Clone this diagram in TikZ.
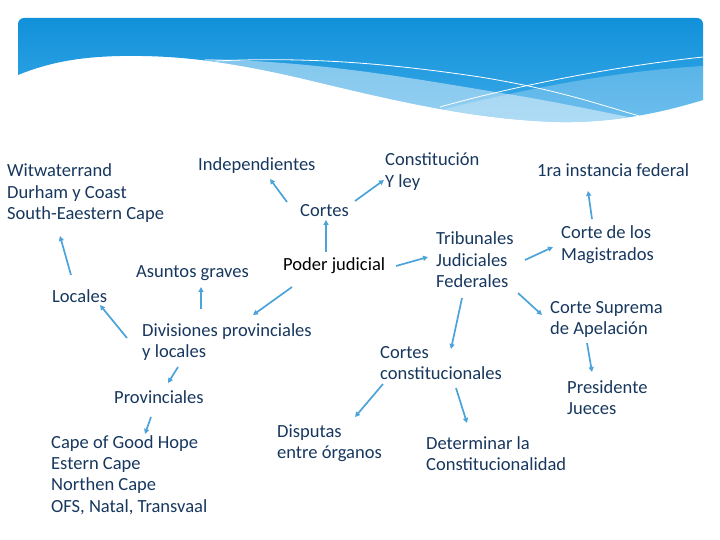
\documentclass[tikz,border=0pt]{standalone}
\usepackage{fontspec}
\setmainfont{Carlito}
\usetikzlibrary{arrows.meta}
\definecolor{navy}{RGB}{23,55,94}
\definecolor{arrowblue}{RGB}{75,163,218}
\definecolor{hdrtop}{RGB}{14,143,216}
\definecolor{hdrbot}{RGB}{64,172,234}
\newcommand{\lblfont}{\fontsize{18.6pt}{21.5pt}\selectfont}
\newcommand{\ml}[1]{\begin{tabular}[t]{@{}l@{}}#1\end{tabular}}
\begin{document}
\begin{tikzpicture}[x=1bp,y=-1bp,
  lbl/.style={anchor=base west, inner sep=0pt, text=navy, font=\lblfont},
  arr/.style={draw=arrowblue, line width=1.7bp, -{Triangle[length=5pt,width=5pt]}}]
\useasboundingbox (0,0) rectangle (720,540);
% header
\begin{scope}
\clip[rounded corners=6bp] (18,18) rectangle (703,135);
\clip (10,10) -- (10,75) -- (18,75) .. controls (50,62) and (80,57) .. (120,56)
  .. controls (180,55) and (230,62) .. (300,78)
  .. controls (380,97) and (470,120) .. (560,122)
  .. controls (620,123) and (670,110) .. (703,100) -- (710,100) -- (710,10) -- cycle;
\shade[top color=hdrtop, bottom color=hdrbot] (10,10) rectangle (710,135);
\fill[white, opacity=0.45] (205,59) .. controls (330,62) and (420,80) .. (520,96)
  .. controls (600,110) and (660,125) .. (703,130) -- (710,140) -- (200,140) -- cycle;
\fill[white, opacity=0.25] (420,115) .. controls (500,95) and (600,72) .. (703,66)
  -- (710,66) -- (710,140) -- (420,140) -- cycle;
\draw[white, line width=0.8bp] (215,61) .. controls (300,57) and (380,62) .. (480,77)
  .. controls (560,90) and (600,105) .. (643,117);
\draw[white, line width=0.8bp] (440,107) .. controls (500,90) and (600,68) .. (703,57);
\end{scope}
% nodes
\node[lbl] (witw) at (7,177) {\ml{Witwaterrand\\Durham y Coast\\South-Eaestern Cape}};
\node[lbl] (indep) at (198,171) {Independientes};
\node[lbl] (cortes) at (300,217) {Cortes};
\node[lbl] (const) at (385,166) {\ml{Constitución\\Y ley}};
\node[lbl] (inst) at (537,177) {1ra instancia federal};
\node[lbl] (trib) at (436,245) {\ml{Tribunales\\Judiciales\\Federales}};
\node[lbl] (magis) at (561,239) {\ml{Corte de los\\Magistrados}};
\node[lbl, text=black] (poder) at (283,271) {Poder judicial};
\node[lbl] (asuntos) at (136,278) {Asuntos graves};
\node[lbl] (locales) at (52,302) {Locales};
\node[lbl] (suprema) at (550,313) {\ml{Corte Suprema\\de Apelación}};
\node[lbl] (divis) at (142,336) {\ml{Divisiones provinciales\\y locales}};
\node[lbl] (cconst) at (380,358) {\ml{Cortes\\constitucionales}};
\node[lbl] (pres) at (567,393) {\ml{Presidente\\Jueces}};
\node[lbl] (prov) at (114,403) {Provinciales};
\node[lbl] (disp) at (277,437) {\ml{Disputas\\entre órganos}};
\node[lbl] (determ) at (426,449) {\ml{Determinar la\\Constitucionalidad}};
\node[lbl] (cape) at (51,448) {\ml{Cape of Good Hope\\Estern Cape\\Northen Cape\\OFS, Natal, Transvaal}};
% connectors
\draw[arr] ([shift={(19,-27)}]locales.base west) -- ([shift={(53,59)}]witw.base west);
\draw[arr] ([shift={(43,-19)}]poder.base west) -- ([shift={(26,3)}]cortes.base west);
\draw[arr] ([shift={(-13,-15)}]cortes.base west) -- ([shift={(72,8)}]indep.base west);
\draw[arr] ([shift={(55,-16)}]cortes.base west) -- ([shift={(-1,14)}]const.base west);
\draw[arr] ([shift={(113,-5)}]poder.base west) -- ([shift={(-8,12)}]trib.base west);
\draw[arr] ([shift={(89,15)}]trib.base west) -- ([shift={(-8,8)}]magis.base west);
\draw[arr] ([shift={(31,-20)}]magis.base west) -- ([shift={(51,14)}]inst.base west);
\draw[arr] ([shift={(82,48)}]trib.base west) -- ([shift={(-8,2)}]suprema.base west);
\draw[arr] ([shift={(26,53)}]trib.base west) -- ([shift={(71,-9)}]cconst.base west);
\draw[arr] ([shift={(37,30)}]suprema.base west) -- ([shift={(25,-21)}]pres.base west);
\draw[arr] ([shift={(76,30)}]cconst.base west) -- ([shift={(41,-26)}]determ.base west);
\draw[arr] ([shift={(3,26)}]cconst.base west) -- ([shift={(78,-20)}]disp.base west);
\draw[arr] ([shift={(9,16)}]poder.base west) -- ([shift={(111,-21)}]divis.base west);
\draw[arr] ([shift={(59,-27)}]divis.base west) -- ([shift={(65,9)}]asuntos.base west);
\draw[arr] ([shift={(-15,2)}]divis.base west) -- ([shift={(48,3)}]locales.base west);
\draw[arr] ([shift={(36,31)}]divis.base west) -- ([shift={(54,-20)}]prov.base west);
\draw[arr] ([shift={(37,14)}]prov.base west) -- ([shift={(94,-14)}]cape.base west);
\end{tikzpicture}
\end{document}
